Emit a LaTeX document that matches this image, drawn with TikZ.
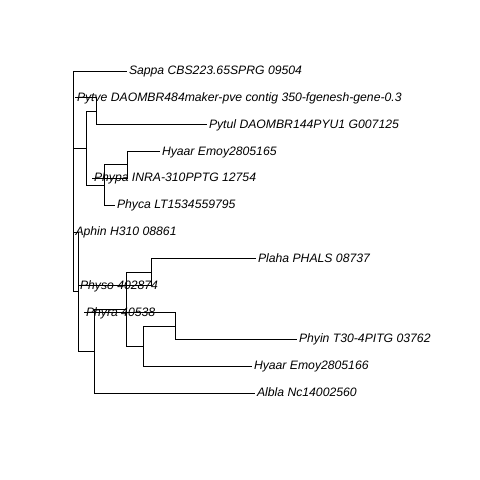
\documentclass[tikz,border=0pt]{standalone}
\usepackage{fontspec}
\setmainfont{Liberation Sans}
\begin{document}
\begin{tikzpicture}[x=1bp,y=-1bp,
  br/.style={draw=black, line width=0.8bp},
  lbl/.style={anchor=base west, inner sep=0pt, xshift=1.8bp, yshift=-3.6bp,
    font=\fontsize{12.2bp}{14bp}\selectfont\itshape}]
\useasboundingbox (0,0) rectangle (480,480);
\fill[white] (0,0) rectangle (480,480);
% internal nodes
\coordinate (root) at (73.5,148.15);
\coordinate (nD) at (86.7,148.15);
\coordinate (nA) at (96,111.25);
\coordinate (nB) at (127,164.9);
\coordinate (nC) at (104.3,185.05);
\coordinate (nJ) at (78.3,291.5);
\coordinate (nI) at (94.3,351.05);
\coordinate (nH) at (126.7,309.1);
\coordinate (nG) at (151.7,272.2);
\coordinate (nF) at (143.3,346);
\coordinate (nE) at (175,325.9);
% tips
\coordinate (t1) at (127,71.0);
\coordinate (t2) at (75,97.8);
\coordinate (t3) at (207,124.7);
\coordinate (t4) at (160,151.5);
\coordinate (t5) at (92,178.3);
\coordinate (t6) at (115,205.2);
\coordinate (t7) at (73.5,232.0);
\coordinate (t8) at (256,258.8);
\coordinate (t9) at (78,285.6);
\coordinate (t10) at (84,312.5);
\coordinate (t11) at (297,339.3);
\coordinate (t12) at (252,366.1);
\coordinate (t13) at (255,393.0);
% branches
\draw[br] (root) |- (t1);
\draw[br] (root) |- (nD);
\draw[br] (root) |- (nJ);
\draw[br] (nD) |- (nA);
\draw[br] (nD) |- (nC);
\draw[br] (nA) |- (t2);
\draw[br] (nA) |- (t3);
\draw[br] (nC) |- (nB);
\draw[br] (nC) |- (t6);
\draw[br] (nB) |- (t4);
\draw[br] (nB) |- (t5);
\draw[br] (nJ) |- (t7);
\draw[br] (nJ) |- (nI);
\draw[br] (nI) |- (nH);
\draw[br] (nI) |- (t13);
\draw[br] (nH) |- (nG);
\draw[br] (nH) |- (nF);
\draw[br] (nG) |- (t8);
\draw[br] (nG) |- (t9);
\draw[br] (nF) |- (nE);
\draw[br] (nF) |- (t12);
\draw[br] (nE) |- (t10);
\draw[br] (nE) |- (t11);
% labels
\node[lbl] (l1) at (t1) {Sappa CBS223.65SPRG 09504};
\node[lbl] (l2) at (t2) {Pytve DAOMBR484maker-pve contig 350-fgenesh-gene-0.3};
\node[lbl] (l3) at (t3) {Pytul DAOMBR144PYU1 G007125};
\node[lbl] (l4) at (t4) {Hyaar Emoy2805165};
\node[lbl] (l5) at (t5) {Phypa INRA-310PPTG 12754};
\node[lbl] (l6) at (t6) {Phyca LT1534559795};
\node[lbl] (l7) at (t7) {Aphin H310 08861};
\node[lbl] (l8) at (t8) {Plaha PHALS 08737};
\node[lbl] (l9) at (t9) {Physo 402874};
\node[lbl] (l10) at (t10) {Phyra 40538};
\node[lbl] (l11) at (t11) {Phyin T30-4PITG 03762};
\node[lbl] (l12) at (t12) {Hyaar Emoy2805166};
\node[lbl] (l13) at (t13) {Albla Nc14002560};
\end{tikzpicture}
\end{document}
